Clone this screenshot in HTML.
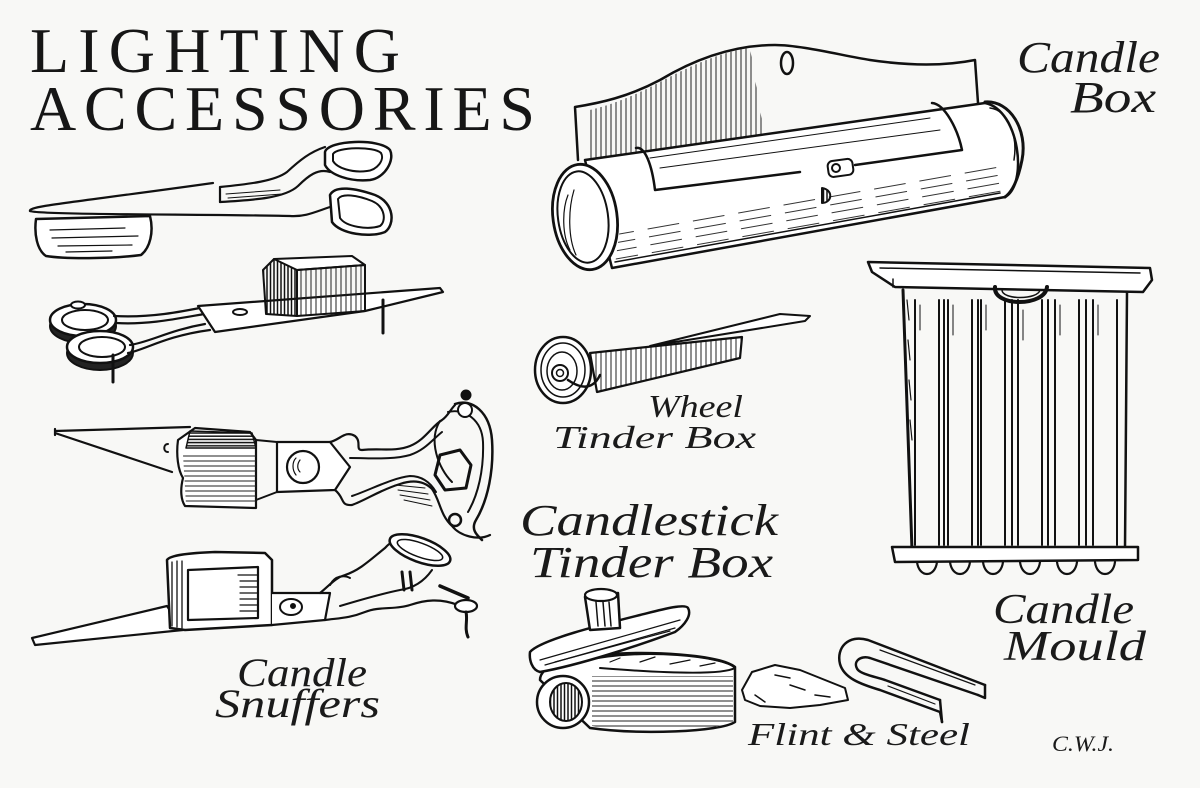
<!DOCTYPE html>
<html><head><meta charset="utf-8">
<style>
html,body{margin:0;padding:0;background:#f8f8f6;}
svg{display:block}
</style></head>
<body>
<svg width="1200" height="788" viewBox="0 0 1200 788" xmlns="http://www.w3.org/2000/svg">
<defs>
<pattern id="vh" width="5" height="10" patternUnits="userSpaceOnUse"><line x1="1" y1="0" x2="1" y2="10" stroke="#222" stroke-width="1"/></pattern>
<pattern id="vh2" width="3.5" height="10" patternUnits="userSpaceOnUse"><line x1="1" y1="0" x2="1" y2="10" stroke="#111" stroke-width="1.5"/></pattern>
<pattern id="hh" width="10" height="5" patternUnits="userSpaceOnUse"><line x1="0" y1="1" x2="10" y2="1" stroke="#222" stroke-width="1"/></pattern>
<pattern id="hh2" width="10" height="3.2" patternUnits="userSpaceOnUse"><line x1="0" y1="1" x2="10" y2="1" stroke="#111" stroke-width="1.5"/></pattern>
<pattern id="cyl" width="46" height="8" patternUnits="userSpaceOnUse" patternTransform="rotate(-10)"><line x1="0" y1="2" x2="32" y2="2" stroke="#333" stroke-width="1"/></pattern>
<pattern id="sl" width="40" height="6" patternUnits="userSpaceOnUse" patternTransform="rotate(-12)"><line x1="0" y1="2" x2="30" y2="2" stroke="#222" stroke-width="1"/></pattern>
</defs>
<rect width="1200" height="788" fill="#f8f8f6"/>

<!-- TITLE -->
<text x="30" y="72" font-family="Liberation Serif, serif" font-size="64" textLength="370" lengthAdjust="spacing" fill="#161616">LIGHTING</text>
<text x="30" y="130" font-family="Liberation Serif, serif" font-size="64" textLength="505" lengthAdjust="spacing" fill="#161616">ACCESSORIES</text>

<g stroke="#111" fill="none" stroke-width="2" stroke-linecap="round" stroke-linejoin="round">

<!-- SNUFFER 1 -->
<path d="M36,219 L150,216 C154,232 150,248 141,255 C110,259 65,259 46,256 C37,250 34,234 36,219 Z" fill="#fff" stroke-width="2.5"/>
<path d="M50,230 L125,228 M52,238 L138,236 M58,246 L132,245 M66,252 L112,251" stroke-width="1.2"/>
<path d="M30,211 C28,206 70,203 213,183" stroke-width="2.2"/>
<path d="M30,211 C40,215 200,214 290,216 C305,217 315,212 330,207" stroke-width="2.2"/>
<path d="M220,187 L220,202 M220,187 C250,184 275,181 287,172 C300,160 310,152 325,147" stroke-width="2.2"/>
<path d="M220,202 C255,200 285,198 298,186 C308,176 318,168 330,172" stroke-width="2.2"/>
<path d="M226,194 L280,190 M228,198 L282,194" stroke-width="1"/>
<path d="M325,152 C328,140 380,138 390,150 C395,160 385,178 370,180 C350,182 330,175 325,165 Z" fill="#fff" stroke-width="2.5"/>
<path d="M333,154 C337,147 374,146 381,153 C385,160 377,170 367,171 C352,173 337,168 333,161 Z" stroke-width="2"/>
<path d="M330,195 C335,185 355,188 375,195 C395,203 395,225 385,232 C370,238 340,234 332,222 Z" fill="#fff" stroke-width="2.5"/>
<path d="M338,199 C342,193 357,195 372,201 C386,207 386,222 380,226 C368,230 346,227 340,218 Z" stroke-width="2"/>

<!-- SNUFFER 2 -->
<ellipse cx="83" cy="326" rx="33" ry="17" fill="#222"/>
<ellipse cx="83" cy="320" rx="33" ry="16" fill="#fff" stroke-width="2.5"/>
<ellipse cx="85" cy="320" rx="23" ry="10"/>
<ellipse cx="78" cy="305" rx="7" ry="3.5" fill="#fff"/>
<ellipse cx="100" cy="353" rx="33" ry="17" fill="#222"/>
<ellipse cx="100" cy="347" rx="33" ry="16" fill="#fff" stroke-width="2.5"/>
<ellipse cx="102" cy="347" rx="23" ry="10"/>
<path d="M114,316 C150,318 180,312 210,306 M116,323 C150,325 180,318 210,313" stroke-width="2.2"/>
<path d="M128,353 C145,350 165,336 210,330 M130,345 C150,342 170,330 205,324" stroke-width="2.2"/>
<path d="M198,306 L440,288 L443,292 L365,311 L215,332 Z" fill="#fff" stroke-width="2.2"/>
<ellipse cx="240" cy="312" rx="7" ry="3"/>
<path d="M263,270 L274,259 L297,263 L297,316 L266,314 Z" fill="url(#vh2)" stroke-width="2"/>
<path d="M274,259 L352,256 L365,265 L297,270 Z" fill="#fff"/>
<path d="M297,270 L365,265 L365,311 L297,316 Z" fill="url(#vh)" stroke-width="2"/>
<line x1="113" y1="355" x2="113" y2="382" stroke-width="3"/>
<line x1="383" y1="300" x2="383" y2="333" stroke-width="3"/>

<!-- SNUFFER 3 -->
<path d="M55,431 L190,427 M55,433 L172,472 M55,429 L55,435" stroke-width="2.2"/>
<path d="M168,444 C163,444 163,452 168,452"/>
<path d="M178,440 C176,455 178,470 183,478 C180,490 181,500 185,506 L256,508 L256,440 L250,432 L195,428 Z" fill="#fff" stroke-width="2.2"/>
<path d="M190,431 L252,433 L256,448 L186,448 Z" fill="url(#hh2)" stroke-width="1.5"/>
<path d="M183,455 L256,455 L256,504 L186,504 Z" fill="url(#hh)" stroke="none"/>
<path d="M256,440 L277,442 M256,500 L277,492" stroke-width="2"/>
<path d="M277,442 L330,442 L350,467 L335,490 L277,492 Z" fill="#fff" stroke-width="2.2"/>
<circle cx="303" cy="467" r="16" fill="#fff" stroke-width="2.2"/>
<path d="M296,458 C292,462 292,470 296,475 M300,460 C297,464 297,469 300,472" stroke-width="1.2"/>
<path d="M330,442 C340,440 345,430 355,436 C362,442 355,450 362,450 C380,448 395,452 410,446 C425,440 432,426 442,420 C448,416 450,410 455,405" stroke-width="2.2"/>
<path d="M350,458 C372,458 392,460 410,455 C425,450 432,440 442,432" stroke-width="2"/>
<path d="M455,404 C472,398 490,412 492,440 C494,470 488,500 476,520 C470,530 478,536 482,540" stroke-width="2.5"/>
<path d="M448,412 C465,408 482,420 483,442 C484,470 478,495 468,512" stroke-width="2"/>
<path d="M440,421 C428,440 438,468 452,482" stroke-width="2"/>
<path d="M440,455 L460,450 L471,465 L466,488 L445,490 L435,475 Z" stroke-width="3"/>
<circle cx="466" cy="395" r="4.5" fill="#111"/>
<circle cx="465" cy="410" r="7" fill="#fff" stroke-width="2"/>
<path d="M335,490 C345,498 340,506 352,505 C366,500 380,490 400,484 C415,479 425,482 432,489 C440,500 440,515 452,526 C460,536 478,541 490,535" stroke-width="2.2"/>
<path d="M352,496 C370,490 392,478 410,476 C422,476 430,482 436,492" stroke-width="2"/>
<path d="M395,485 L425,488 M398,490 L428,494 M400,495 L430,500 M404,500 L432,506" stroke-width="1"/>
<circle cx="455" cy="520" r="6" stroke-width="2.5"/>

<!-- SNUFFER 4 -->
<path d="M32,638 L167,606 L183,630 L35,645 Z" fill="#fff" stroke-width="2.2"/>
<path d="M167,560 C170,555 190,553 215,552 L265,553 L272,560 L272,625 L185,630 L170,628 Z" fill="#fff" stroke-width="2.5"/>
<path d="M188,570 L258,567 L258,618 L188,620 Z" stroke-width="2.2"/>
<path d="M172,562 L172,626 M177,561 L177,627 M182,561 L182,628" stroke-width="1.3"/>
<path d="M238,575 L258,575 M240,581 L258,581 M240,587 L258,587 M240,593 L258,593 M240,599 L258,599 M240,605 L258,605 M240,611 L258,611" stroke-width="1.2"/>
<path d="M272,593 L330,593 L325,620 L272,625" fill="#fff" stroke-width="2.2"/>
<ellipse cx="291" cy="607" rx="11" ry="8" fill="#fff" stroke-width="2"/>
<circle cx="293" cy="606" r="2" fill="#111"/>
<path d="M320,593 C330,585 335,578 345,575 C360,570 370,560 385,548 C392,540 400,538 410,540" stroke-width="2.2"/>
<path d="M330,585 C335,575 345,575 350,578" stroke-width="2"/>
<ellipse cx="420" cy="550" rx="32" ry="12" transform="rotate(20 420 550)" fill="#fff" stroke-width="2.5"/>
<ellipse cx="420" cy="550" rx="24" ry="7" transform="rotate(20 420 550)" stroke-width="1.5"/>
<path d="M325,620 C340,618 350,618 365,612 C380,606 395,610 410,605 C425,600 440,598 458,605" stroke-width="2.2"/>
<path d="M340,606 C360,600 380,594 400,590 C415,588 425,580 432,570" stroke-width="2"/>
<path d="M402,572 L404,590 M410,572 L412,590" stroke-width="3"/>
<path d="M440,586 L468,598" stroke-width="3.5"/>
<ellipse cx="466" cy="606" rx="11" ry="6" fill="#fff" stroke-width="2.2"/>
<path d="M466,612 C468,620 464,628 468,637" stroke-width="3"/>

<!-- CANDLE BOX -->
<path d="M590,160 L590,110 C610,105 630,98 660,82 C690,66 720,52 750,48 L765,140 Z" fill="url(#vh)" stroke="none"/>
<path d="M578,160 L575,107 C600,103 628,97 660,80 C690,62 730,45 775,45 C800,45 840,55 870,60 C910,66 945,66 975,60 L978,103" stroke-width="2.5"/>
<ellipse cx="787" cy="63" rx="6" ry="11" stroke-width="2.5"/>
<path d="M585,160 L985,103 C1020,110 1028,185 1005,197 L612,268 Z" fill="#fff" stroke-width="2.5"/>
<path d="M620,228 L1000,160 L1005,195 L615,265 Z" fill="url(#cyl)" stroke="none"/>
<path d="M615,262 L1000,193" stroke-width="1.5"/>
<path d="M985,102 C1010,100 1028,130 1022,160 C1018,180 1012,192 1005,197" stroke-width="3"/>
<path d="M990,108 C1008,110 1018,135 1014,160" stroke-width="1.5"/>
<path d="M636,148 C645,146 652,165 655,190 L800,172" stroke-width="2.5"/>
<path d="M855,165 L962,150 M932,103 C945,104 958,130 962,150" stroke-width="2.5"/>
<path d="M650,158 L930,118 M660,168 L940,130" stroke-width="1"/>
<rect x="828" y="160" width="25" height="16" rx="5" transform="rotate(-8 840 168)" fill="#fff" stroke-width="2"/>
<circle cx="836" cy="168" r="4"/>
<path d="M822,188 L822,203 C832,203 834,190 822,188 Z" fill="url(#vh2)"/>
<ellipse cx="585" cy="217" rx="32" ry="53" transform="rotate(-8 585 217)" fill="#fff" stroke-width="2.8"/>
<ellipse cx="583" cy="217" rx="25" ry="46" transform="rotate(-8 583 217)" stroke-width="2"/>
<path d="M568,195 C562,210 562,235 570,250 M574,190 C568,210 568,238 576,255" stroke-width="1.2"/>
<text x="1017" y="72" font-family="Liberation Serif, serif" font-style="italic" font-size="44" textLength="143" lengthAdjust="spacingAndGlyphs" fill="#1a1a1a" stroke="none">Candle</text>
<text x="1070" y="112" font-family="Liberation Serif, serif" font-style="italic" font-size="44" textLength="86" lengthAdjust="spacingAndGlyphs" fill="#1a1a1a" stroke="none">Box</text>

<!-- CANDLE MOULD -->
<path d="M868,262 L1150,268 L1152,280 L1143,292 L895,287 L872,272 Z" fill="#fff" stroke-width="2.5"/>
<path d="M880,268 L1140,273 M893,287 L893,279" stroke-width="1.5"/>
<path d="M903,290 L912,550" stroke-width="3"/>
<path d="M1127,292 L1125,548" stroke-width="2.5"/>
<path d="M907,300 L909,320 M908,340 L910,360 M909,380 L911,400 M910,420 L912,440" stroke-width="1.2"/>
<g stroke-width="2">
<path d="M915,300 L915,545 M939,300 L939,545 M944,300 L944,545"/>
<path d="M948,300 L948,545 M972,300 L972,545 M978,300 L978,545"/>
<path d="M981,300 L981,545 M1005,300 L1005,545 M1012,300 L1012,545"/>
<path d="M1018,300 L1018,545 M1042,300 L1042,545 M1048,300 L1048,545"/>
<path d="M1055,300 L1055,545 M1079,300 L1079,545 M1086,300 L1086,545"/>
<path d="M1093,300 L1093,545 M1117,300 L1117,545"/>
</g>
<path d="M920,305 L920,330 M953,305 L953,335 M986,305 L986,330 M1023,310 L1023,340 M1060,305 L1060,335 M1098,305 L1098,335" stroke-width="1"/>
<path d="M995,287 C993,307 1045,307 1047,287" stroke-width="4"/>
<path d="M1002,290 C1002,300 1038,300 1040,290" stroke-width="1.5"/>
<path d="M892,547 L1138,547 L1138,560 L895,562 Z" fill="#fff" stroke-width="2.5"/>
<path d="M917,562 C919,578 935,578 937,562 M950,562 C952,578 968,578 970,562 M983,562 C985,578 1001,578 1003,562 M1020,562 C1022,578 1038,578 1040,562 M1057,562 C1059,578 1075,578 1077,562 M1095,562 C1097,578 1113,578 1115,562" stroke-width="2.2"/>
<text x="993" y="623" font-family="Liberation Serif, serif" font-style="italic" font-size="42" textLength="141" lengthAdjust="spacingAndGlyphs" fill="#1a1a1a" stroke="none">Candle</text>
<text x="1004" y="660" font-family="Liberation Serif, serif" font-style="italic" font-size="42" textLength="142" lengthAdjust="spacingAndGlyphs" fill="#1a1a1a" stroke="none">Mould</text>

<!-- WHEEL TINDER BOX -->
<path d="M590,353 L742,337 L740,358 L597,392 Z" fill="#fff" stroke="none"/>
<path d="M590,353 L742,337 L740,358 L597,392 Z" fill="url(#vh)" stroke-width="2.2"/>
<path d="M650,346 L780,314 L810,316 L805,321 L700,338 Z" fill="#fff" stroke-width="2"/>
<ellipse cx="563" cy="370" rx="28" ry="33" fill="#fff" stroke-width="2.5"/>
<ellipse cx="563" cy="370" rx="22" ry="27" stroke-width="1.5"/>
<ellipse cx="562" cy="371" rx="15" ry="19" stroke-width="1.5"/>
<circle cx="560" cy="373" r="8" stroke-width="2"/>
<circle cx="560" cy="373" r="3.5" stroke-width="1.5"/>
<path d="M568,380 C585,392 595,386 600,375" stroke-width="2.5"/>
<text x="648" y="417" font-family="Liberation Serif, serif" font-style="italic" font-size="32" textLength="95" lengthAdjust="spacingAndGlyphs" fill="#1a1a1a" stroke="none">Wheel</text>
<text x="553" y="448" font-family="Liberation Serif, serif" font-style="italic" font-size="32" textLength="203" lengthAdjust="spacingAndGlyphs" fill="#1a1a1a" stroke="none">Tinder Box</text>

<!-- CANDLESTICK TINDER BOX -->
<text x="520" y="535" font-family="Liberation Serif, serif" font-style="italic" font-size="44" textLength="258" lengthAdjust="spacingAndGlyphs" fill="#1a1a1a" stroke="none">Candlestick</text>
<text x="530" y="577" font-family="Liberation Serif, serif" font-style="italic" font-size="44" textLength="243" lengthAdjust="spacingAndGlyphs" fill="#1a1a1a" stroke="none">Tinder Box</text>
<path d="M540,680 C540,665 570,657 600,655 C650,650 720,655 735,667 L735,722 C720,732 640,735 590,728 Z" fill="#fff" stroke-width="2.5"/>
<path d="M592,676 L733,676 L733,722 C720,730 640,732 592,726 Z" fill="url(#hh)" stroke="none"/>
<path d="M588,660 C640,648 725,656 735,668 C720,676 650,672 600,668" stroke-width="2"/>
<path d="M610,662 L620,658 M640,662 L655,657 M670,664 L690,660 M700,666 L715,663" stroke-width="1.2"/>
<ellipse cx="563" cy="702" rx="26" ry="26" fill="#fff" stroke-width="2.5"/>
<ellipse cx="566" cy="702" rx="16" ry="19" fill="url(#vh2)" stroke-width="2"/>
<path d="M530,652 C540,640 600,625 640,615 C660,610 685,603 688,608 C692,615 685,625 675,632 C640,645 580,665 540,672 C532,670 529,660 530,652 Z" fill="#fff" stroke-width="2.5"/>
<path d="M540,660 L680,620 M545,665 L675,628" stroke-width="1.2"/>
<path d="M555,662 L670,631" stroke-width="1.2"/>
<path d="M585,597 L590,630 L620,628 L618,593 Z" fill="#fff" stroke-width="2.5"/>
<ellipse cx="601" cy="595" rx="16" ry="6" fill="#fff" stroke-width="2.2"/>
<path d="M596,602 L598,626 M603,602 L605,626 M609,602 L611,626" stroke-width="1.5"/>

<!-- FLINT & STEEL -->
<path d="M742,690 L752,672 L775,665 L800,670 L825,680 L845,688 L848,700 L820,705 L790,708 L760,706 L745,700 Z" fill="#fff" stroke-width="2"/>
<path d="M755,695 L765,702 M790,685 L805,690 M775,675 L790,678 M815,695 L830,697" stroke-width="1.5"/>
<path d="M985,685 L868,640 C848,634 836,648 840,664 C844,678 860,684 880,690 L940,712 L942,722" fill="none" stroke-width="2.5"/>
<path d="M978,695 L870,658 C860,655 852,662 858,670 C862,674 872,676 885,680 L940,700" stroke-width="2.5"/>
<path d="M985,685 L985,698 L978,695 M940,700 L942,722" stroke-width="2.5"/>
<path d="M880,650 L975,685 M888,686 L935,704" stroke-width="1.2"/>
<text x="748" y="745" font-family="Liberation Serif, serif" font-style="italic" font-size="32" textLength="222" lengthAdjust="spacingAndGlyphs" fill="#1a1a1a" stroke="none">Flint &amp; Steel</text>
<text x="1052" y="751" font-family="Liberation Serif, serif" font-style="italic" font-size="22" textLength="62" lengthAdjust="spacingAndGlyphs" fill="#1a1a1a" stroke="none">C.W.J.</text>

<!-- SNUFFERS LABEL -->
<text x="237" y="686" font-family="Liberation Serif, serif" font-style="italic" font-size="40" textLength="130" lengthAdjust="spacingAndGlyphs" fill="#1a1a1a" stroke="none">Candle</text>
<text x="215" y="717" font-family="Liberation Serif, serif" font-style="italic" font-size="40" textLength="165" lengthAdjust="spacingAndGlyphs" fill="#1a1a1a" stroke="none">Snuffers</text>
</g>
</svg>
</body></html>
